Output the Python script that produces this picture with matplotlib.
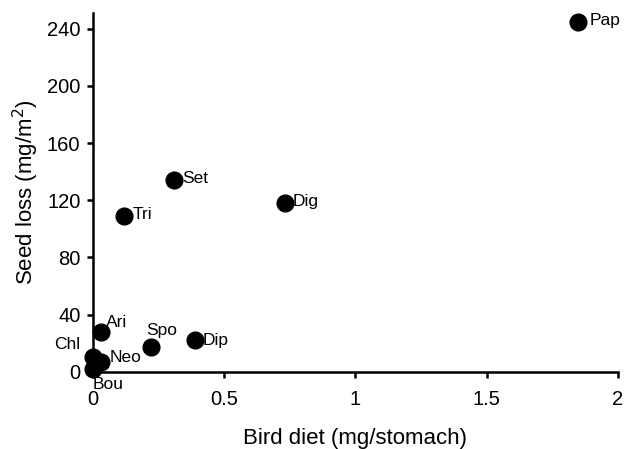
import matplotlib
matplotlib.use("Agg")
import matplotlib.pyplot as plt

plt.rcParams['font.family'] = ['Liberation Sans', 'DejaVu Sans']

species = ["Pap", "Set", "Tri", "Dig", "Ari", "Spo", "Dip", "Neo", "Chl", "Bou"]
bird_diet = [1.85, 0.31, 0.12, 0.73, 0.03, 0.22, 0.39, 0.03, 0.0, 0.0]
seed_loss = [245, 134, 109, 118, 28, 17, 22, 7, 10, 2]

# label offsets in points (dx, dy) and alignment
offsets = {
    "Pap": (8, 1, "left", "center"),
    "Set": (6, 1, "left", "center"),
    "Tri": (6, 1, "left", "center"),
    "Dig": (6, 1, "left", "center"),
    "Ari": (4, 7, "left", "center"),
    "Spo": (-3, 12, "left", "center"),
    "Dip": (5, 0, "left", "center"),
    "Neo": (6, 3, "left", "center"),
    "Chl": (-9, 9, "right", "center"),
    "Bou": (0, -11, "left", "center"),
}

fig, ax = plt.subplots(figsize=(6.24, 4.49), dpi=100)
fig.subplots_adjust(left=0.149, right=0.990, bottom=0.172, top=0.971)

ax.scatter(bird_diet, seed_loss, s=145, color='black', zorder=3, clip_on=False)
for name, x, y in zip(species, bird_diet, seed_loss):
    dx, dy, ha, va = offsets[name]
    ax.annotate(name, (x, y), xytext=(dx, dy), textcoords='offset points',
                ha=ha, va=va, fontsize=12.5)

ax.set_xlim(0, 2)
ax.set_ylim(0, 251)
ax.set_xticks([0, 0.5, 1, 1.5, 2])
ax.set_xticklabels(["0", "0.5", "1", "1.5", "2"])
ax.set_yticks([0, 40, 80, 120, 160, 200, 240])

for s in ["top", "right"]:
    ax.spines[s].set_visible(False)
for s in ["left", "bottom"]:
    ax.spines[s].set_linewidth(1.8)
ax.tick_params(direction='out', length=4, width=1.8, labelsize=14.5)
ax.tick_params(axis='x', pad=9)
ax.tick_params(axis='y', pad=5)

ax.set_xlabel("Bird diet (mg/stomach)", fontsize=16, labelpad=14)
ax.set_ylabel("Seed loss (mg/m$^2$)", fontsize=16, labelpad=4)

fig.savefig("out.png")
